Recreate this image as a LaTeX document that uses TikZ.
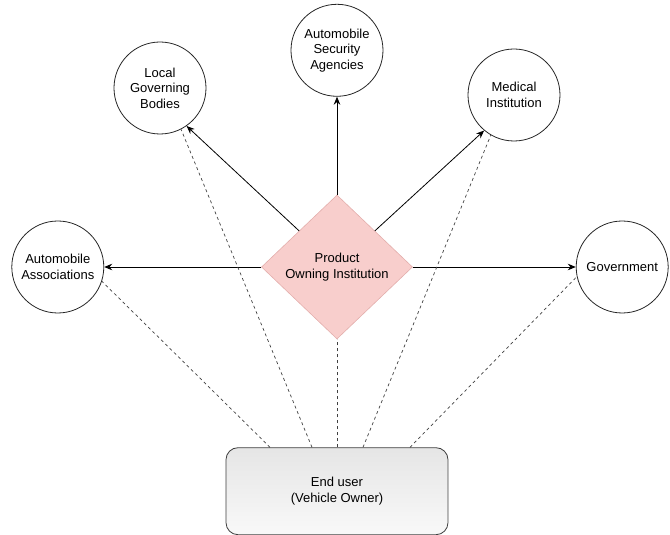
\documentclass[tikz,border=0pt]{standalone}
\usepackage{fontspec}
\setmainfont{Liberation Sans}
\usetikzlibrary{positioning, arrows.meta, shapes.geometric}
\definecolor{ownerfill}{HTML}{F8CECC}
\definecolor{ownerdraw}{HTML}{E3AEAC}

\begin{document}
\begin{tikzpicture}[
        x=1pt, y=1pt,
        font=\fontsize{13}{15.5}\selectfont,
        party/.style={circle, draw=black!85, line width=0.8pt, minimum size=92pt, inner sep=0pt, align=center},
        owner/.style={diamond, draw=ownerdraw, fill=ownerfill, line width=0.6pt, minimum width=151pt, minimum height=144pt, inner sep=0pt, align=center},
        enduser/.style={rectangle, rounded corners=12pt, draw=black!75, line width=0.8pt, top color=gray!20, bottom color=gray!5, minimum width=222pt, minimum height=87pt, align=center},
        arrow/.style={-{Stealth[length=8pt, width=6.5pt]}, line width=0.8pt, black},
        link/.style={dash pattern=on 3pt off 3pt, black!75, line width=0.7pt}
    ]
        \useasboundingbox (-337,-268) rectangle (333,267);

        % Institution
        \node[owner] (owner) at (0,0) {Product\\Owning Institution};

        % Parties
        \node[party, left=157pt of owner] (assoc) {Automobile\\Associations};
        \node[party, right=163pt of owner] (gov) {Government};
        \node[party, above=98pt of owner] (security) {Automobile\\Security\\Agencies};
        \node[party] (local) at (-177,179) {Local\\Governing\\Bodies};
        \node[party] (medical) at (177,172) {Medical\\Institution};

        % End user
        \node[enduser, below=108pt of owner] (user) {End user\\(Vehicle Owner)};
        \coordinate (u1) at ([xshift=-67pt]user.north);
        \coordinate (u2) at ([xshift=-25pt]user.north);
        \coordinate (u3) at ([xshift=26pt]user.north);
        \coordinate (u4) at ([xshift=73pt]user.north);

        % Connections
        \draw[arrow] (owner.west) -- (assoc);
        \draw[arrow] (owner.east) -- (gov);
        \draw[arrow] (owner.north) -- (security);
        \draw[arrow] (owner.north west) -- (local.-55);
        \draw[arrow] (owner.north east) -- (medical.-130);

        % Dependencies
        \draw[link] (u1) -- (assoc.-18);
        \draw[link] (u2) -- (local.-63);
        \draw[link] (user.north) -- (owner.south);
        \draw[link] (u3) -- (medical.-120);
        \draw[link] (u4) -- (gov.-168);
    \end{tikzpicture}
\end{document}
